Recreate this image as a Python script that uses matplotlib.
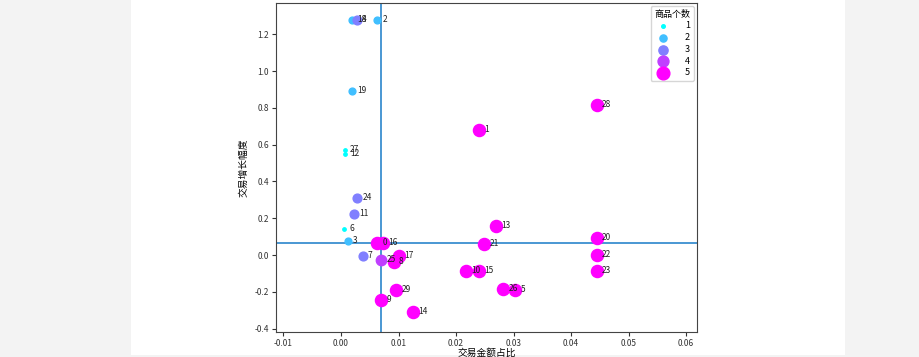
import matplotlib
matplotlib.use("Agg")
import matplotlib.pyplot as plt
from matplotlib.patches import Rectangle

plt.rcParams['font.family'] = ['Noto Sans CJK SC', 'DejaVu Sans']
plt.rcParams['axes.unicode_minus'] = False

# 商品编号, 交易金额占比, 交易增长幅度, 商品个数
labels = list(range(30))
share = [0.0063, 0.0240, 0.0063, 0.0012, 0.0028, 0.0303, 0.0005, 0.0038, 0.0092, 0.0070,
         0.0217, 0.0023, 0.0007, 0.0270, 0.0125, 0.0240, 0.0073, 0.0101, 0.0019, 0.0019,
         0.0445, 0.0249, 0.0445, 0.0445, 0.0028, 0.0070, 0.0282, 0.0007, 0.0445, 0.0096]
growth = [0.065, 0.679, 1.277, 0.076, 1.277, -0.190, 0.141, -0.005, -0.038, -0.245,
          -0.087, 0.223, 0.549, 0.158, -0.310, -0.087, 0.065, -0.005, 1.277, 0.891,
          0.092, 0.060, 0.000, -0.087, 0.310, -0.027, -0.185, 0.571, 0.815, -0.190]
count = [5, 5, 2, 2, 3, 5, 1, 3, 5, 5,
         5, 3, 1, 5, 5, 5, 5, 5, 2, 2,
         5, 5, 5, 5, 3, 4, 5, 1, 5, 5]

mean_share = 0.0069
mean_growth = 0.063

size_map = {1: 6, 2: 24, 3: 40, 4: 56, 5: 76}
cmap = plt.get_cmap('cool')

fig = plt.figure(figsize=(9.2, 3.57), dpi=100)
fig.patch.set_facecolor('#f3f3f3')
bg = Rectangle((131 / 920, 2 / 357), (845 - 131) / 920, 355 / 357,
               transform=fig.transFigure, facecolor='white', edgecolor='none', zorder=-5)
fig.add_artist(bg)
ax = fig.add_axes([276 / 920, 25 / 357, 421 / 920, 329 / 357])

for k in range(1, 6):
    idx = [i for i in range(len(labels)) if count[i] == k]
    ax.scatter([share[i] for i in idx], [growth[i] for i in idx],
               s=size_map[k], color=cmap((k - 1) / 4), label=str(k), zorder=3)

for i in range(len(labels)):
    ax.text(share[i] + 0.0009, growth[i] + 0.005, str(labels[i]),
            fontsize=6, color='#222222', va='center', ha='left', zorder=4)

ax.axvline(mean_share, color='#3a8fd0', lw=1.3, zorder=2)
ax.axhline(mean_growth, color='#3a8fd0', lw=1.3, zorder=2)

ax.set_xlim(-0.0113, 0.0619)
ax.set_ylim(-0.418, 1.37)
ax.set_xticks([-0.01, 0.0, 0.01, 0.02, 0.03, 0.04, 0.05, 0.06])
ax.set_yticks([-0.4, -0.2, 0.0, 0.2, 0.4, 0.6, 0.8, 1.0, 1.2])
ax.tick_params(labelsize=6, length=3, width=0.8, pad=2, colors='#333333')
for sp in ax.spines.values():
    sp.set_color('#444444')
ax.set_xlabel('交易金额占比', fontsize=7, labelpad=0)
ax.set_ylabel('交易增长幅度', fontsize=7, labelpad=4)

leg = ax.legend(title='商品个数', loc='upper right', fontsize=6.5, title_fontsize=6.5,
                frameon=True, borderpad=0.4, labelspacing=0.3, handletextpad=1.4,
                borderaxespad=0.35, markerscale=1.05)

fig.savefig('out.png', dpi=100, facecolor=fig.get_facecolor())
